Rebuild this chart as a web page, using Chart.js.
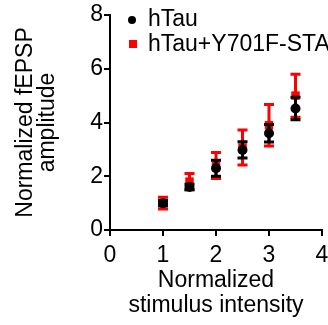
<!DOCTYPE html>
<html>
<head>
<meta charset="utf-8">
<script src="https://cdn.jsdelivr.net/npm/chart.js@4.4.1/dist/chart.umd.min.js"></script>
<style>
  body { margin: 0; background: #fff; }
  #wrap { width: 328px; height: 325px; }
</style>
</head>
<body>
<div id="wrap"><canvas id="fepspChart" width="328" height="325"></canvas></div>
<script>
// stimulus intensity (normalized)
const intensity = [1, 1.5, 2, 2.5, 3, 3.5];

// hTau: mean +/- SEM
const hTauMean = [1.0, 1.6, 2.3, 2.98, 3.6, 4.52];
const hTauErr = [0.1, 0.1, 0.3, 0.3, 0.33, 0.42];

// hTau+Y701F-STAT3: mean +/- SEM
const statMean = [1.0, 1.8, 2.4, 3.07, 3.9, 5.0];
const statErr = [0.22, 0.3, 0.48, 0.65, 0.77, 0.8];

const seriesNames = ['hTau', 'hTau+Y701F-STAT3'];
const xTicks = [0, 1, 2, 3, 4];
const yTicks = [0, 2, 4, 6, 8];

const FONT = 'Liberation Sans, Arial, Helvetica, sans-serif';

function toPoints(xs, ys) {
    return xs.map((x, i) => ({ x: x, y: ys[i] }));
}

// draws each dataset's error bars right before its markers
const errorBars = {
    id: 'errorBars',
    beforeDatasetDraw(chart, args) {
        const ds = chart.data.datasets[args.index];
        if (!ds.errors) return;
        const ctx = chart.ctx;
        const xs = chart.scales.x, ys = chart.scales.y;
        ctx.save();
        ctx.strokeStyle = ds.borderColor;
        ctx.lineWidth = 3;
        ds.data.forEach((p, i) => {
            const px = xs.getPixelForValue(p.x);
            const top = ys.getPixelForValue(p.y + ds.errors[i]);
            const bot = ys.getPixelForValue(p.y - ds.errors[i]);
            ctx.beginPath();
            ctx.moveTo(px, top); ctx.lineTo(px, bot);
            ctx.moveTo(px - 5, top); ctx.lineTo(px + 5, top);
            ctx.moveTo(px - 5, bot); ctx.lineTo(px + 5, bot);
            ctx.stroke();
        });
        ctx.restore();
    }
};

// legend sits inside the plot, top-left
const insideLegend = {
    id: 'insideLegend',
    afterDraw(chart) {
        const ctx = chart.ctx;
        ctx.save();
        ctx.font = '23px ' + FONT;
        ctx.textBaseline = 'middle';
        ctx.fillStyle = '#000';
        ctx.beginPath();
        ctx.arc(132, 20, 4, 0, Math.PI * 2);
        ctx.fill();
        ctx.fillText(seriesNames[0], 148, 20);
        ctx.fillStyle = '#ff0000';
        ctx.fillRect(129, 40, 8, 8);
        ctx.fillStyle = '#000';
        ctx.fillText(seriesNames[1], 148, 45);
        ctx.restore();
    }
};

new Chart(document.getElementById('fepspChart'), {
    type: 'scatter',
    data: {
        datasets: [
            {
                label: seriesNames[0],
                data: toPoints(intensity, hTauMean),
                errors: hTauErr,
                borderColor: '#000',
                backgroundColor: '#000',
                pointStyle: 'circle',
                pointRadius: 5,
                pointBorderWidth: 0
            },
            {
                label: seriesNames[1],
                data: toPoints(intensity, statMean),
                errors: statErr,
                borderColor: '#ff0000',
                backgroundColor: '#ff0000',
                pointStyle: 'rect',
                pointRadius: 6,
                pointBorderWidth: 0
            }
        ]
    },
    options: {
        responsive: false,
        animation: false,
        layout: { padding: { left: 2, right: 0, top: 15, bottom: 0 } },
        plugins: {
            legend: { display: false },
            tooltip: { enabled: false }
        },
        scales: {
            x: {
                type: 'linear',
                min: 0,
                max: 4,
                afterFit: s => { s.height = 95; s.paddingRight = 6; },
                afterBuildTicks: s => { s.ticks = xTicks.map(v => ({ value: v })); },
                border: { color: '#000', width: 2 },
                grid: { drawOnChartArea: false, drawTicks: true, tickLength: 6, color: '#000', lineWidth: 2 },
                ticks: { color: '#000', padding: 6, font: { family: FONT, size: 23 } },
                title: {
                    display: true,
                    text: ['Normalized', 'stimulus intensity'],
                    color: '#000',
                    font: { family: FONT, size: 23, lineHeight: 1.07 },
                    padding: { top: 0, bottom: 7 }
                }
            },
            y: {
                type: 'linear',
                min: 0,
                max: 8,
                afterFit: s => { s.width = 108; s.paddingTop = 0; },
                afterBuildTicks: s => { s.ticks = yTicks.map(v => ({ value: v })); },
                border: { color: '#000', width: 2 },
                grid: { drawOnChartArea: false, drawTicks: true, tickLength: 6, color: '#000', lineWidth: 2 },
                ticks: { color: '#000', padding: 1, font: { family: FONT, size: 23 } },
                title: {
                    display: true,
                    text: ['Normalized fEPSP', 'amplitude'],
                    color: '#000',
                    font: { family: FONT, size: 23, lineHeight: 0.96 },
                    padding: { top: 13, bottom: 0 }
                }
            }
        }
    },
    plugins: [errorBars, insideLegend]
});
</script>
</body>
</html>
